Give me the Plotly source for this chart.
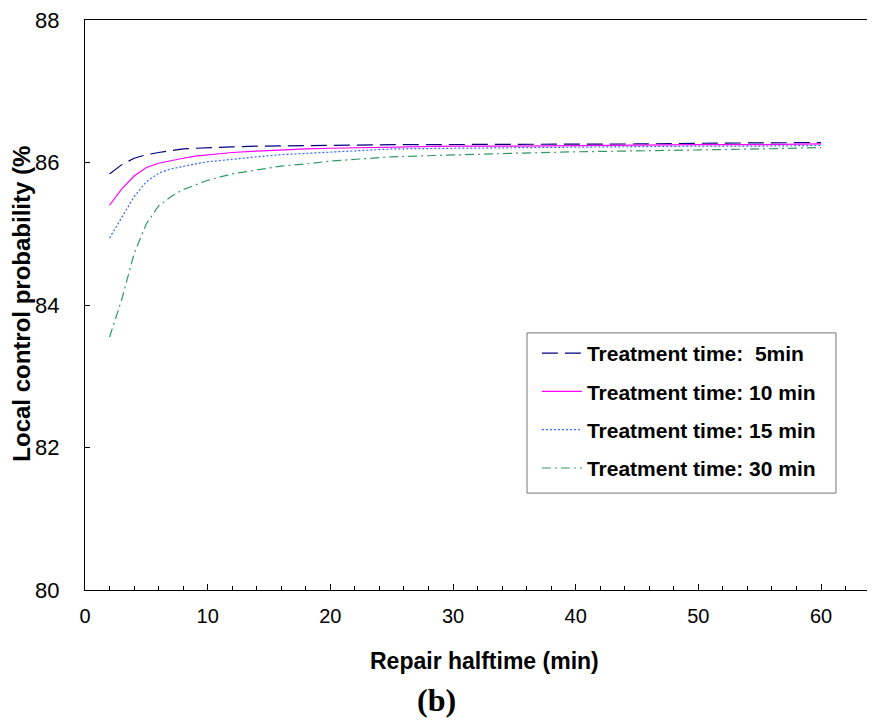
import plotly.graph_objects as go

halftime = [2, 3, 4, 5, 6, 7, 8, 9, 10, 12, 14, 16, 18, 20, 25, 30, 35, 40, 45, 50, 55, 60]
lcp_5min = [85.84, 85.97, 86.06, 86.11, 86.14, 86.17, 86.19, 86.20, 86.21, 86.22, 86.23, 86.23,
            86.24, 86.24, 86.25, 86.25, 86.26, 86.26, 86.26, 86.27, 86.27, 86.28]
lcp_10min = [85.40, 85.63, 85.81, 85.93, 85.99, 86.03, 86.06, 86.09, 86.11, 86.14, 86.16, 86.18,
             86.19, 86.20, 86.22, 86.23, 86.23, 86.24, 86.24, 86.25, 86.25, 86.26]
lcp_15min = [84.94, 85.22, 85.52, 85.73, 85.85, 85.91, 85.95, 85.98, 86.01, 86.05, 86.08, 86.11,
             86.13, 86.15, 86.19, 86.20, 86.21, 86.22, 86.22, 86.23, 86.23, 86.24]
lcp_30min = [83.55, 84.08, 84.72, 85.14, 85.39, 85.52, 85.62, 85.69, 85.75, 85.84, 85.90, 85.95,
             85.98, 86.02, 86.08, 86.11, 86.13, 86.15, 86.16, 86.18, 86.19, 86.21]

names = ["Treatment time:\u00a0 5min", "Treatment time: 10 min",
         "Treatment time: 15 min", "Treatment time: 30 min"]
series = [lcp_5min, lcp_10min, lcp_15min, lcp_30min]
colors = ["#000080", "#FF00FF", "#3366FF", "#339966"]
dashes = ["16px,7px", "solid", "2px,2px", "9px,4px,2px,4px"]

fig = go.Figure()
for i, (nm, ys) in enumerate(zip(names, series)):
    fig.add_trace(go.Scatter(
        x=halftime, y=ys, mode="lines", name=nm, legendgroup=f"g{i}",
        line=dict(color=colors[i], width=1.2, dash=dashes[i])))

fig.update_layout(
    width=867, height=712,
    margin=dict(l=77, r=0, t=12, b=130),
    plot_bgcolor="white", paper_bgcolor="white",
    font=dict(family="Liberation Sans, Arial", color="black", size=20),
    showlegend=True,
    legend=dict(x=0.572, y=0.451, xanchor="left", yanchor="top",
                borderwidth=0, bgcolor="rgba(0,0,0,0)",
                font=dict(size=21, family="Liberation Sans, Arial", color="black", weight="bold"),
                tracegroupgap=8, itemwidth=40),
    shapes=[dict(type="rect", xref="paper", yref="paper", x0=0.5595, x1=0.9506,
                 y0=0.170, y1=0.451, line=dict(color="#777777", width=1),
                 fillcolor="white", layer="below")],
    xaxis=dict(range=[0, 64.4], dtick=10, tick0=0, showline=True, linecolor="black",
               linewidth=1, mirror=True, ticks="inside", ticklen=6, tickcolor="black",
               showgrid=False, zeroline=False,
               minor=dict(dtick=2, ticks="inside", ticklen=4, tickcolor="black"),
               tickfont=dict(size=20), ticklabelstandoff=8),
    yaxis=dict(range=[80, 88], dtick=2, showline=True, linecolor="black", linewidth=1,
               ticks="inside", ticklen=5, tickcolor="black", showgrid=False, zeroline=False,
               tickfont=dict(size=22), ticklabelstandoff=20, ticklabeloverflow="allow"),
    annotations=[
        dict(text="<b>Repair halftime (min)</b>", xref="paper", yref="paper",
             x=0.506, y=-0.125, xanchor="center", yanchor="middle", showarrow=False,
             font=dict(size=23)),
        dict(text="<b>Local control probability (%</b>", xref="paper", yref="paper",
             x=-0.08, y=0.502, xanchor="center", yanchor="middle", showarrow=False,
             textangle=-90, font=dict(size=24)),
        dict(text="<b>(b)</b>", xref="paper", yref="paper",
             x=0.445, y=-0.193, xanchor="center", yanchor="middle", showarrow=False,
             font=dict(size=32, family="Liberation Serif, Times New Roman")),
    ],
)

fig.write_html("out.html")
